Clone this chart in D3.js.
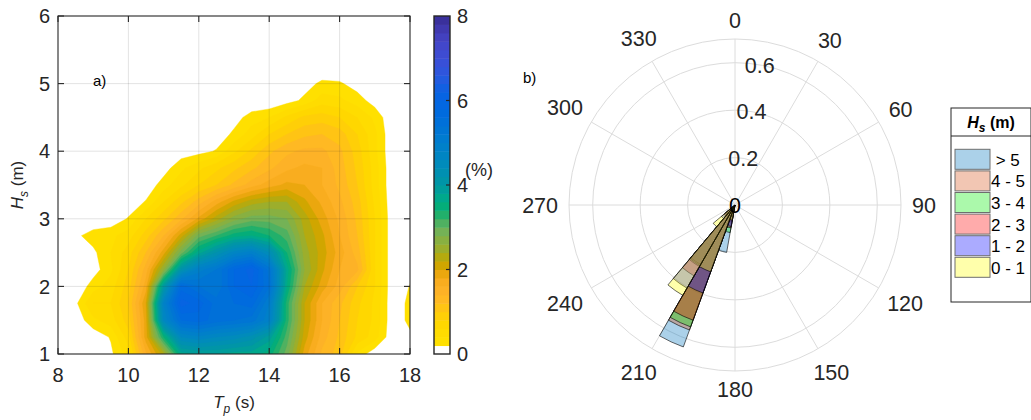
<!DOCTYPE html>
<html>
<head>
<meta charset="utf-8">
<script src="https://cdn.jsdelivr.net/npm/d3@7"></script>
<style>
  body { margin: 0; background: #fff; }
  svg { display: block; font-family: "Liberation Sans", Arial, Helvetica, sans-serif; }
</style>
</head>
<body>
<svg id="fig" width="1031" height="420"></svg>
<script>
// ---------- panel a: joint occurrence of Tp and Hs (%) ----------
const tp = [8, 8.5, 9, 9.5, 10, 10.5, 11, 11.5, 12, 12.5, 13, 13.5, 14, 14.5, 15, 15.5, 16, 16.5, 17, 17.5, 18, 18.5];
const hs = [1, 1.25, 1.5, 1.75, 2, 2.25, 2.5, 2.75, 3, 3.25, 3.5, 3.75, 4, 4.25, 4.5, 4.75, 5, 5.25];
// one row per hs value, one column per tp value
const freq = [
  [0, 0, 0, 0.15, 0.50, 1.56, 2.30, 3.70, 3.80, 3.80, 3.70, 3.70, 3.50, 2.90, 1.90, 1.35, 1.10, 0.35, 0.05, 0, 0.05, 0],
  [0, 0, 0.05, 0.22, 0.70, 1.90, 3.40, 4.60, 4.75, 4.60, 4.50, 4.30, 3.90, 3.10, 2.10, 1.50, 1.15, 0.75, 0.50, 0.03, 0.15, 0.05],
  [0, 0.05, 0.35, 0.50, 0.90, 1.90, 4.60, 5.60, 5.70, 5.50, 5.40, 5.30, 4.85, 3.30, 2.20, 1.60, 1.20, 0.80, 0.55, 0.05, 0.26, 0.10],
  [0, 0.15, 0.60, 0.60, 1.00, 2.00, 4.80, 6.10, 5.90, 5.50, 5.60, 5.70, 5.00, 3.30, 2.20, 1.60, 1.25, 0.85, 0.55, 0.05, 0.26, 0.10],
  [0, 0.02, 0.30, 0.50, 0.90, 1.70, 4.00, 5.70, 5.40, 5.20, 5.80, 6.00, 5.40, 3.60, 2.40, 1.90, 1.50, 1.00, 0.60, 0.05, 0.21, 0.08],
  [0, 0, 0.10, 0.35, 0.80, 1.50, 2.60, 4.20, 4.90, 5.20, 5.80, 6.10, 5.30, 3.70, 2.60, 2.05, 1.60, 1.45, 0.60, 0.05, 0.12, 0.05],
  [0, 0, 0.15, 0.40, 0.70, 1.20, 1.90, 2.90, 3.70, 4.20, 4.70, 4.90, 4.40, 3.40, 2.50, 2.10, 1.70, 1.30, 0.60, 0.05, 0.05, 0],
  [0, 0.15, 0.30, 0.35, 0.50, 0.90, 1.40, 2.10, 2.90, 3.20, 3.50, 3.60, 3.40, 3.10, 2.40, 2.05, 1.60, 1.20, 0.60, 0.05, 0, 0],
  [0, 0, 0.02, 0.05, 0.22, 0.60, 0.95, 1.35, 1.85, 2.30, 2.70, 2.90, 2.90, 2.80, 2.30, 1.90, 1.55, 1.15, 0.60, 0.05, 0, 0],
  [0, 0, 0, 0, 0.05, 0.22, 0.60, 0.95, 1.30, 1.70, 2.05, 2.30, 2.40, 2.40, 2.05, 1.75, 1.45, 1.10, 0.55, 0.04, 0, 0],
  [0, 0, 0, 0, 0, 0.05, 0.30, 0.55, 0.80, 1.00, 1.25, 1.50, 1.70, 1.85, 1.80, 1.60, 1.35, 1.00, 0.50, 0.03, 0, 0],
  [0, 0, 0, 0, 0, 0, 0.10, 0.35, 0.55, 0.75, 0.95, 1.15, 1.35, 1.55, 1.65, 1.60, 1.30, 0.95, 0.50, 0.03, 0, 0],
  [0, 0, 0, 0, 0, 0, 0, 0.08, 0.12, 0.22, 0.55, 0.85, 1.15, 1.35, 1.45, 1.45, 1.25, 0.90, 0.45, 0.02, 0, 0],
  [0, 0, 0, 0, 0, 0, 0, 0, 0, 0.05, 0.25, 0.50, 0.80, 1.00, 1.15, 1.20, 1.10, 0.80, 0.45, 0.02, 0, 0],
  [0, 0, 0, 0, 0, 0, 0, 0, 0, 0, 0.10, 0.30, 0.40, 0.65, 0.85, 0.90, 0.80, 0.60, 0.35, 0.02, 0, 0],
  [0, 0, 0, 0, 0, 0, 0, 0, 0, 0, 0, 0, 0, 0.10, 0.25, 0.50, 0.45, 0.30, 0.10, 0, 0, 0],
  [0, 0, 0, 0, 0, 0, 0, 0, 0, 0, 0, 0, 0, 0, 0.10, 0.25, 0.23, 0.10, 0, 0, 0, 0],
  [0, 0, 0, 0, 0, 0, 0, 0, 0, 0, 0, 0, 0, 0, 0, 0, 0, 0, 0, 0, 0, 0]
];
const tpTicks = [8, 10, 12, 14, 16, 18];
const hsTicks = [1, 2, 3, 4, 5, 6];
const cbarTicks = [0, 2, 4, 6, 8];
const levelStep = 0.2;          // filled-contour interval (%)
const cbarMax = 8;
// colour ramp of the occurrence scale
const rampStops = [
  [0.2, '#ffe200'], [0.8, '#ffd500'], [1.1, '#ffc414'], [1.4, '#ffb42a'], [1.8, '#f7aa1c'],
  [2.0, '#dea400'], [2.2, '#c2a800'], [2.5, '#9cae2c'], [2.9, '#74b256'], [3.2, '#3cb066'],
  [3.4, '#06b070'], [3.7, '#00a88c'], [4.0, '#0097a2'], [4.6, '#0088c0'], [5.2, '#0078d2'],
  [5.8, '#0068e0'], [6.2, '#0a62e2'], [6.6, '#2a58de'], [7.0, '#3c4ed6'], [7.4, '#4444c6'],
  [7.8, '#3e36a8'], [8.0, '#362a90']
];

// ---------- panel b: directional rose of Hs classes ----------
const sectorStart = [190, 200, 210, 220];      // bearing of each 10-degree sector
const sectorWidth = 10;
const hsClasses = ['0 - 1', '1 - 2', '2 - 3', '3 - 4', '4 - 5', '> 5'];
const classColors = ['#ffff00', '#0000ff', '#ff0000', '#00ee00', '#d95319', '#0072bd'];
// radial reach of each class patch per sector
const reach0to1 = [0.065, 0.300, 0.440, 0.120];
const reach1to2 = [0.092, 0.395, 0.405, 0.075];
const reach2to3 = [0.098, 0.517, 0.345, 0.060];
const reach3to4 = [0.118, 0.547, 0.300, 0.055];
const reach4to5 = [0.070, 0.561, 0.295, 0.050];
const reachAbove5 = [0.203, 0.637, 0.290, 0.045];
const radialTicks = [0, 0.2, 0.4, 0.6];
const radialMax = 0.7;
const thetaTicks = [0, 30, 60, 90, 120, 150, 180, 210, 240, 270, 300, 330];

// ---------- drawing ----------
const svg = d3.select('#fig');
const ink = '#262626';

const x = d3.scaleLinear().domain([8, 18]).range([58, 410]);
const y = d3.scaleLinear().domain([1, 6]).range([354, 16]);

const ramp = d3.scaleLinear()
  .domain(rampStops.map(s => s[0]))
  .range(rampStops.map(s => s[1]))
  .interpolate(d3.interpolateRgb)
  .clamp(true);
const bandColor = lo => (lo < levelStep - 1e-9 ? '#ffffff' : ramp(lo + levelStep / 2));

svg.append('rect').attr('width', 1031).attr('height', 420).attr('fill', '#fff');

svg.append('clipPath').attr('id', 'plotArea')
  .append('rect').attr('x', x(8)).attr('y', y(6))
  .attr('width', x(18) - x(8)).attr('height', y(1) - y(6));

// filled contours
const nLevels = Math.round(cbarMax / levelStep);
const levels = d3.range(1, nLevels).map(k => +(k * levelStep).toFixed(2));
const bands = d3.contours().size([tp.length, hs.length]).thresholds(levels)(freq.flat());
const dTp = tp[1] - tp[0], dHs = hs[1] - hs[0];
const gridToPlot = d3.geoTransform({
  point(gx, gy) { this.stream.point(x(tp[0] + (gx - 0.5) * dTp), y(hs[0] + (gy - 0.5) * dHs)); }
});
const contourPath = d3.geoPath(gridToPlot);

const gA = svg.append('g');
gA.append('g').attr('clip-path', 'url(#plotArea)')
  .selectAll('path').data(bands).join('path')
  .attr('d', contourPath)
  .attr('fill', d => bandColor(d.value))
  .attr('stroke', d => bandColor(d.value))
  .attr('stroke-width', 0.4);

// grid on top of the fill
const grid = gA.append('g').attr('stroke', ink).attr('stroke-opacity', 0.13).attr('stroke-width', 1);
tpTicks.slice(1, -1).forEach(t => grid.append('line')
  .attr('x1', x(t)).attr('x2', x(t)).attr('y1', y(1)).attr('y2', y(6)));
hsTicks.slice(1, -1).forEach(h => grid.append('line')
  .attr('x1', x(8)).attr('x2', x(18)).attr('y1', y(h)).attr('y2', y(h)));

// box and inward ticks
const tickLen = 6;
const axisG = gA.append('g').attr('stroke', ink).attr('stroke-width', 1.1);
axisG.append('rect').attr('x', x(8)).attr('y', y(6))
  .attr('width', x(18) - x(8)).attr('height', y(1) - y(6)).attr('fill', 'none');
tpTicks.forEach(t => {
  axisG.append('line').attr('x1', x(t)).attr('x2', x(t)).attr('y1', y(1)).attr('y2', y(1) - tickLen);
  axisG.append('line').attr('x1', x(t)).attr('x2', x(t)).attr('y1', y(6)).attr('y2', y(6) + tickLen);
});
hsTicks.forEach(h => {
  axisG.append('line').attr('x1', x(8)).attr('x2', x(8) + tickLen).attr('y1', y(h)).attr('y2', y(h));
  axisG.append('line').attr('x1', x(18)).attr('x2', x(18) - tickLen).attr('y1', y(h)).attr('y2', y(h));
});

gA.selectAll('text.xt').data(tpTicks).join('text')
  .attr('x', d => x(d)).attr('y', 382).attr('text-anchor', 'middle')
  .attr('font-size', 20).attr('fill', ink).text(d => d);
gA.selectAll('text.yt').data(hsTicks).join('text')
  .attr('x', 50).attr('y', d => y(d)).attr('dy', '0.36em').attr('text-anchor', 'end')
  .attr('font-size', 20).attr('fill', ink).text(d => d);

// axis labels
const xl = gA.append('text').attr('x', (x(8) + x(18)) / 2).attr('y', 408)
  .attr('text-anchor', 'middle').attr('font-size', 17).attr('fill', ink);
xl.append('tspan').attr('font-style', 'italic').text('T');
xl.append('tspan').attr('font-style', 'italic').attr('font-size', 12).attr('dy', 5).text('p');
xl.append('tspan').attr('dy', -5).text(' (s)');

const yl = gA.append('text').attr('transform', `translate(23,${(y(1) + y(6)) / 2}) rotate(-90)`)
  .attr('text-anchor', 'middle').attr('font-size', 17).attr('fill', ink);
yl.append('tspan').attr('font-style', 'italic').text('H');
yl.append('tspan').attr('font-style', 'italic').attr('font-size', 12).attr('dy', 5).text('s');
yl.append('tspan').attr('dy', -5).text(' (m)');

gA.append('text').attr('x', 93).attr('y', 86).attr('font-size', 15).attr('fill', '#000').text('a)');

// colour bar
const cb = d3.scaleLinear().domain([0, cbarMax]).range([354, 16]);
const cbX = 434, cbW = 16;
const cbG = svg.append('g');
cbG.selectAll('rect.band').data(d3.range(0, nLevels)).join('rect')
  .attr('x', cbX).attr('width', cbW)
  .attr('y', k => cb((k + 1) * levelStep)).attr('height', k => cb(k * levelStep) - cb((k + 1) * levelStep) + 0.5)
  .attr('fill', k => bandColor(k * levelStep));
cbG.append('rect').attr('x', cbX).attr('y', cb(cbarMax)).attr('width', cbW).attr('height', cb(0) - cb(cbarMax))
  .attr('fill', 'none').attr('stroke', ink).attr('stroke-width', 1.4);
cbTicksInner = cbarTicks.slice(1, -1);
cbTicksInner.forEach(v => cbG.append('line').attr('x1', cbX + cbW - 4).attr('x2', cbX + cbW)
  .attr('y1', cb(v)).attr('y2', cb(v)).attr('stroke', ink).attr('stroke-width', 1.2));
cbG.selectAll('text.cbt').data(cbarTicks).join('text')
  .attr('x', 457).attr('y', d => cb(d)).attr('dy', '0.36em')
  .attr('font-size', 20).attr('fill', ink).text(d => d);
cbG.append('text').attr('x', 465).attr('y', 176).attr('font-size', 18).attr('fill', ink).text('(%)');

// ---------- rose ----------
const cx = 735, cy = 205;
const rS = d3.scaleLinear().domain([0, radialMax]).range([0, 166]);
const gB = svg.append('g').attr('transform', `translate(${cx},${cy})`);
const gridCol = '#dcdcdc';
radialTicks.slice(1).concat([radialMax]).forEach(v => gB.append('circle')
  .attr('r', rS(v)).attr('fill', 'none').attr('stroke', gridCol).attr('stroke-width', 1));
thetaTicks.forEach(a => {
  const t = a * Math.PI / 180;
  gB.append('line').attr('x1', 0).attr('y1', 0)
    .attr('x2', rS(radialMax) * Math.sin(t)).attr('y2', -rS(radialMax) * Math.cos(t))
    .attr('stroke', gridCol).attr('stroke-width', 1);
});

// class patches: each from the centre to its reach, drawn from highest class down
const reachByClass = [reach0to1, reach1to2, reach2to3, reach3to4, reach4to5, reachAbove5];
const patches = [];
for (let c = hsClasses.length - 1; c >= 0; c--) {
  sectorStart.forEach((s, i) => patches.push({ cls: c, start: s, reach: reachByClass[c][i] }));
}
const arc = d3.arc()
  .innerRadius(0)
  .outerRadius(d => rS(d.reach))
  .startAngle(d => d.start * Math.PI / 180)
  .endAngle(d => (d.start + sectorWidth) * Math.PI / 180);
gB.selectAll('path.patch').data(patches).join('path')
  .attr('d', arc)
  .attr('fill', d => classColors[d.cls]).attr('fill-opacity', 0.33)
  .attr('stroke', '#000').attr('stroke-opacity', 0.75).attr('stroke-width', 0.8)
  .attr('stroke-linejoin', 'round');

// radial labels along the 10-degree bearing
const labAng = 10 * Math.PI / 180;
gB.selectAll('text.rt').data(radialTicks).join('text')
  .attr('x', d => rS(d) * Math.sin(labAng)).attr('y', d => -rS(d) * Math.cos(labAng))
  .attr('dy', '0.36em').attr('text-anchor', 'middle')
  .attr('font-size', 21.5).attr('fill', d => (d === 0 ? '#000' : ink)).text(d => d);

// bearing labels
const fsT = 21.5;
gB.selectAll('text.tt').data(thetaTicks).join('text')
  .each(function (a) {
    const t = a * Math.PI / 180;
    const w = String(a).length * 0.556 * fsT, h = 0.72 * fsT;
    const r = 177 + (w / 2) * Math.abs(Math.sin(t)) + (h / 2) * Math.abs(Math.cos(t));
    d3.select(this).attr('x', r * Math.sin(t)).attr('y', -r * Math.cos(t));
  })
  .attr('dy', '0.36em').attr('text-anchor', 'middle')
  .attr('font-size', fsT).attr('fill', ink).text(d => d);

svg.append('text').attr('x', 523).attr('y', 83).attr('font-size', 15).attr('fill', '#000').text('b)');

// legend
const lg = svg.append('g');
const lgX = 951, lgTop = 108, lgHead = 136, lgBottom = 302, lgRight = 1031;
lg.append('rect').attr('x', lgX).attr('y', lgTop).attr('width', lgRight - lgX).attr('height', lgBottom - lgTop)
  .attr('fill', '#fff').attr('stroke', ink).attr('stroke-width', 1);
lg.append('line').attr('x1', lgX).attr('x2', lgRight).attr('y1', lgHead).attr('y2', lgHead)
  .attr('stroke', ink).attr('stroke-width', 1);
const lt = lg.append('text').attr('x', 991).attr('y', 128).attr('text-anchor', 'middle')
  .attr('font-size', 16).attr('font-weight', 'bold').attr('fill', '#000');
lt.append('tspan').attr('font-style', 'italic').text('H');
lt.append('tspan').attr('font-style', 'italic').attr('font-size', 12).attr('dy', 4).text('s');
lt.append('tspan').attr('dy', -4).text(' (m)');

const legendOrder = d3.range(hsClasses.length).reverse();
legendOrder.forEach((c, i) => {
  const top = 149.3 + i * 21.6;
  lg.append('rect').attr('x', 955).attr('y', top).attr('width', 35).attr('height', 20)
    .attr('fill', classColors[c]).attr('fill-opacity', 0.33)
    .attr('stroke', '#6e6e6e').attr('stroke-width', 1);
  lg.append('text').attr('x', 991).attr('y', top + 16.5)
    .attr('font-size', 17).attr('fill', '#000').style('white-space', 'pre')
    .text(hsClasses[c] === '> 5' ? ' > 5' : hsClasses[c]);
});
</script>
</body>
</html>
